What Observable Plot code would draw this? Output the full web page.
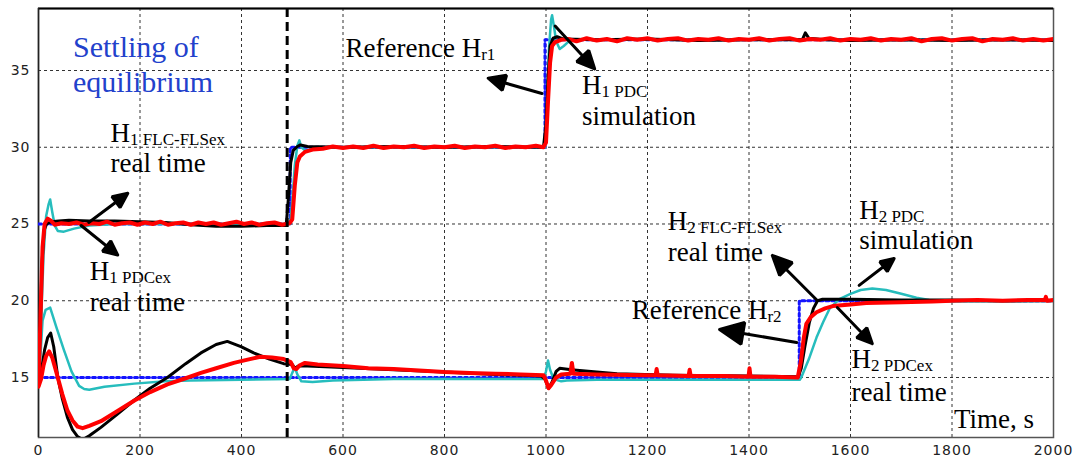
<!DOCTYPE html>
<html><head><meta charset="utf-8">
<script src="https://cdn.jsdelivr.net/npm/d3@7"></script>
<script src="https://cdn.jsdelivr.net/npm/@observablehq/plot@0.6"></script>
<style>
html,body{margin:0;padding:0;background:#fff;}
#chart svg{display:block;}
</style></head><body><div id="chart"></div>
<script>
// ---- axes ----
const xDomain = [0, 2000];
const yDomain = [11.09, 39.04];
const xTicks = [0, 200, 400, 600, 800, 1000, 1200, 1400, 1600, 1800, 2000];
const yTicks = [15, 20, 25, 30, 35];
const dividerT = [490];

// ---- references (blue dotted) ----
const refH1 = [[0,25],[496,25],[496,30],[998,30],[998,37],[2000,37]];
const refH2 = [[0,15],[1499,15],[1499,20],[2000,20]];

// ---- H PDC simulation (cyan) ----
const simH1 = [[0,14.5],[5,18.5],[10,23],[15,25.5],[20,26.3],[23,26.6],[27,25.8],[32,24.9],[38,24.55],[50,24.5],[70,24.7],[100,24.9],[150,25.0],[496,25.0],[500,26.5],[505,28.8],[510,30.1],[514,30.45],[518,30.0],[525,29.8],[540,29.85],[560,29.95],[600,30.0],[998,30.0],[1002,33],[1006,36.5],[1010,38.3],[1012,38.6],[1016,37.8],[1020,36.9],[1027,36.4],[1035,36.6],[1045,36.9],[1060,37.0],[2000,37.0]];
const simH2 = [[0,14.5],[4,16.5],[8,18.7],[14,19.4],[23,19.55],[35,18.3],[50,16.8],[65,15.4],[80,14.45],[90,14.25],[100,14.2],[130,14.4],[189,14.6],[250,14.75],[300,14.8],[400,14.85],[495,14.9],[500,15.3],[505,15.65],[510,15.2],[518,14.75],[540,14.7],[580,14.8],[700,14.9],[995,14.9],[1000,15.4],[1004,16.1],[1008,15.5],[1015,14.9],[1030,14.75],[1041,14.8],[1100,14.85],[1500,14.85],[1503,15.0],[1518,16.2],[1533,17.6],[1546,18.6],[1559,19.5],[1578,20.1],[1600,20.45],[1620,20.7],[1643,20.8],[1670,20.7],[1700,20.45],[1730,20.2],[1755,20.05],[1800,19.95],[1900,19.95],[2000,20.0]];

// ---- H FLC-FLSex real time (black) ----
const flcH1 = [[0,14.5],[3,18],[7,22.5],[11,24.6],[16,25.0],[25,25.15],[40,25.2],[60,25.25],[100,25.2],[150,25.2],[200,25.15],[250,25.1],[300,24.95],[350,24.85],[400,24.85],[450,24.9],[488,24.9],[492,26.5],[497,29],[502,29.8],[510,30.05],[516,30.15],[530,30.05],[600,30.0],[700,30.05],[800,30.0],[900,30.05],[995,30.0],[1000,31.5],[1004,34.5],[1008,36.6],[1014,37.1],[1022,37.2],[1035,37.05],[1100,37.0],[1200,37.05],[1300,36.95],[1400,37.0],[1505,37.0],[1511,37.45],[1518,37.1],[1550,37.0],[1600,36.95],[1700,37.0],[1800,36.95],[1900,37.0],[2000,36.95]];
const flcH2 = [[0,14.5],[6,15.5],[12,16.8],[18,17.6],[24,17.9],[30,17.0],[38,15.0],[47,13.6],[57,12.4],[67,11.6],[77,11.15],[87,10.95],[100,11.2],[123,11.75],[155,12.6],[188,13.5],[220,14.3],[254,15.0],[290,15.9],[320,16.6],[350,17.15],[372,17.35],[400,17.0],[424,16.6],[455,16.2],[483,15.9],[500,15.85],[505,15.6],[512,15.75],[530,15.75],[600,15.65],[700,15.5],[800,15.35],[900,15.2],[990,15.1],[998,14.9],[1005,14.3],[1012,14.7],[1020,15.4],[1027,15.6],[1050,15.5],[1100,15.35],[1140,15.25],[1250,15.15],[1400,15.1],[1497,15.05],[1503,15.6],[1510,17.0],[1519,18.6],[1527,19.5],[1535,20.0],[1545,20.1],[1600,20.1],[1700,20.05],[1800,20.05],[1900,20.0],[2000,20.0]];

// ---- H PDCex real time (red) ----
const pdcH1 = [[0,14.5],[4,19],[8,23.5],[12,25],[18,25.35],[25,25.2],[32,24.95],[45,25.05],[60,25.0],[75,25.1],[90,24.95],[105,25.05],[120,25.0],[135,25.15],[150,24.95],[165,25.05],[180,25.1],[195,24.95],[210,25.1],[225,25.0],[240,25.15],[255,24.95],[270,25.05],[285,25.1],[300,24.95],[315,25.1],[330,25.0],[345,25.1],[360,24.95],[375,25.05],[390,25.15],[405,25.0],[420,25.1],[435,24.95],[450,25.05],[465,25.1],[480,24.95],[495,25.05],[500,25.3],[505,27.5],[510,29.0],[515,29.4],[525,29.7],[540,29.85],[560,29.9],[580,30.05],[600,29.95],[620,30.05],[640,29.95],[660,30.1],[680,29.95],[700,30.05],[720,30.0],[740,30.1],[760,29.95],[780,30.05],[800,30.0],[820,30.1],[840,29.95],[860,30.05],[880,30.0],[900,30.1],[920,29.95],[940,30.05],[960,30.0],[980,30.1],[995,30.0],[1000,30.3],[1004,33],[1008,35.5],[1012,36.6],[1018,36.85],[1030,37.0],[1045,37.05],[1060,36.9],[1080,37.1],[1100,36.95],[1120,37.05],[1140,36.9],[1160,37.1],[1180,37.0],[1200,37.1],[1220,36.95],[1240,37.05],[1260,37.1],[1280,36.95],[1300,37.05],[1320,37.0],[1340,37.1],[1360,36.95],[1380,37.05],[1400,37.0],[1420,37.1],[1440,36.95],[1460,37.05],[1480,37.1],[1500,36.95],[1520,37.05],[1540,37.0],[1560,37.1],[1580,36.95],[1600,37.05],[1620,37.0],[1640,37.1],[1660,36.95],[1680,37.05],[1700,37.0],[1720,37.1],[1740,36.9],[1760,37.05],[1780,37.1],[1800,36.95],[1820,37.05],[1840,37.1],[1860,36.9],[1880,37.05],[1900,37.0],[1920,37.1],[1940,36.95],[1960,37.05],[1980,36.95],[2000,37.05]];
const pdcH2 = [[0,14.4],[5,14.9],[10,15.8],[15,16.4],[21,16.7],[27,16.3],[33,15.6],[38,15.0],[47,13.9],[57,12.85],[67,12.2],[77,11.8],[87,11.7],[100,11.85],[123,12.15],[155,12.8],[189,13.5],[220,14.05],[254,14.55],[290,14.95],[320,15.3],[350,15.6],[385,15.95],[410,16.15],[437,16.35],[460,16.3],[483,16.2],[497,16.0],[503,15.6],[508,15.55],[515,15.8],[525,15.95],[550,15.85],[600,15.75],[650,15.6],[700,15.55],[750,15.45],[800,15.35],[850,15.3],[900,15.25],[950,15.2],[995,15.15],[1000,14.8],[1005,14.3],[1010,14.5],[1020,15.0],[1030,15.2],[1048,15.25],[1051,15.95],[1054,15.25],[1100,15.2],[1200,15.15],[1216,15.15],[1218,15.55],[1220,15.15],[1281,15.1],[1283,15.5],[1285,15.1],[1350,15.1],[1399,15.05],[1401,15.6],[1403,15.05],[1450,15.05],[1496,15.0],[1502,16.0],[1508,17.6],[1513,18.5],[1522,18.95],[1533,19.25],[1550,19.5],[1565,19.65],[1600,19.75],[1631,19.85],[1700,19.9],[1761,19.95],[1800,20.0],[1850,20.05],[1900,20.0],[1950,20.05],[1983,20.05],[1985,20.25],[1987,20.0],[2000,20.05]];

// ---- annotations ----
const blueText = ["Settling of", "equilibrium"];
const blueT = [68, 68];
const blueV = [35.85, 33.57];
const labelText = ["H_1 FLC-FLSex", "real time", "H_1 PDCex", "real time", "Reference H_r1", "H_1 PDC", "simulation", "H_2 FLC-FLSex", "real time", "H_2 PDC", "simulation", "Reference H_r2", "H_2 PDCex", "real time", "Time, s"];
const labelT = [142, 142, 101, 101, 605, 1071, 1071, 1240, 1240, 1617, 1617, 1169, 1602, 1602, 1804];
const labelV = [30.31, 28.36, 21.32, 19.3, 35.85, 33.5, 31.48, 24.58, 22.62, 25.3, 23.4, 18.84, 15.59, 13.5, 11.68];
const arrowT1 = [99, 84, 992, 1018, 1535, 1617, 1574, 1494];
const arrowV1 = [25.1, 24.9, 33.5, 37.9, 20.0, 21.0, 19.56, 17.28];
const arrowT2 = [176, 156, 886, 1096, 1446, 1686, 1643, 1342];
const arrowV2 = [27.0, 22.98, 34.5, 35.1, 22.95, 22.75, 17.2, 18.13];

const blueLabels = blueText.map((s, i) => ({s, t: blueT[i], v: blueV[i]}));
const labels = labelText.map((s, i) => ({s, t: labelT[i], v: labelV[i]}));
const arrows = arrowT1.map((t, i) => ({t1: t, v1: arrowV1[i], t2: arrowT2[i], v2: arrowV2[i]}));

const X = d => d[0], Y = d => d[1];
const line = (data, stroke, strokeWidth, extra = {}) =>
  Plot.line(data, {x: X, y: Y, stroke, strokeWidth, clip: true, strokeLinejoin: "round", ...extra});

const plot = Plot.plot({
  width: 1080, height: 461,
  marginLeft: 38, marginRight: 27, marginTop: 8, marginBottom: 24,
  style: {background: "#fff", fontFamily: "'DejaVu Sans', sans-serif", fontSize: "14px", color: "#222"},
  x: {domain: xDomain, ticks: xTicks, tickSize: 0, tickPadding: 8, tickFormat: d3.format("d"), label: null},
  y: {domain: yDomain, ticks: yTicks, tickSize: 0, tickPadding: 8, tickFormat: d3.format("d"), label: null},
  marks: [
    Plot.ruleX(xTicks, {stroke: "#333", strokeWidth: 1, strokeDasharray: "3,3"}),
    Plot.ruleY(yTicks, {stroke: "#333", strokeWidth: 1, strokeDasharray: "3,3"}),
    Plot.frame({stroke: "#555", strokeWidth: 1.5}),
    Plot.ruleY([yDomain[1]], {stroke: "#000", strokeWidth: 2}),
    Plot.ruleX([xDomain[0]], {stroke: "#222", strokeWidth: 1.5}),
    line(refH1, "#1414ff", 3, {strokeDasharray: "3,3"}),
    line(refH2, "#1414ff", 3, {strokeDasharray: "3,3"}),
    line(simH1, "#26bdbd", 2.5),
    line(simH2, "#26bdbd", 2.5),
    line(flcH1, "#000", 3),
    line(flcH2, "#000", 3),
    line(pdcH1, "#ff0000", 4),
    line(pdcH2, "#ff0000", 4),
    Plot.ruleX(dividerT, {stroke: "#000", strokeWidth: 3, strokeDasharray: "9,5"}),
    Plot.arrow(arrows, {x1: "t1", y1: "v1", x2: "t2", y2: "v2", stroke: "#000", strokeWidth: 3, headLength: 14, headAngle: 50}),
    Plot.text(blueLabels, {x: "t", y: "v", text: "s", textAnchor: "start", lineAnchor: "bottom", fill: "#2241cc", fontSize: 30, fontFamily: "'Liberation Serif', 'Times New Roman', serif"}),
    Plot.text(labels, {x: "t", y: "v", text: "s", textAnchor: "start", lineAnchor: "bottom", fill: "#000", fontSize: 27, fontFamily: "'Liberation Serif', 'Times New Roman', serif"})
  ]
});

// subscripts
d3.select(plot).selectAll("text").each(function () {
  const t = this.textContent;
  if (t.includes("_")) {
    const [a, b] = t.split("_");
    const sel = d3.select(this);
    sel.text(null);
    sel.append("tspan").text(a);
    sel.append("tspan").attr("font-size", 17).attr("dy", 3).text(b);
  }
});
// filled arrow heads
d3.select(plot).selectAll("g[aria-label='arrow'] path").each(function () {
  const d = this.getAttribute("d");
  if (d && !d.endsWith("Z")) {
    this.setAttribute("d", d + "Z");
    this.setAttribute("fill", "#000");
  }
});
// tick label spacing
d3.select(plot).selectAll("g[aria-label^='x-axis'] text, g[aria-label^='y-axis'] text").style("letter-spacing", "1px");

document.getElementById("chart").appendChild(plot);
</script>
</body></html>
